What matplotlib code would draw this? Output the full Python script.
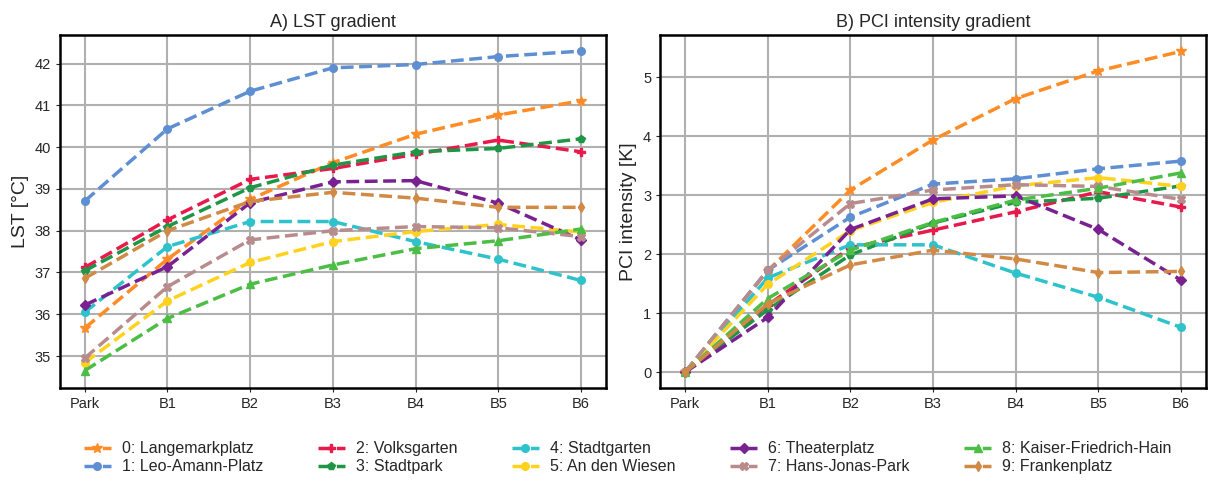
import numpy as np
import matplotlib
matplotlib.use("Agg")
import matplotlib.pyplot as plt

plt.rcParams['font.family'] = ['Liberation Sans', 'DejaVu Sans']
plt.rcParams['text.color'] = '#262626'
plt.rcParams['axes.labelcolor'] = '#262626'
plt.rcParams['xtick.color'] = '#262626'
plt.rcParams['ytick.color'] = '#262626'

# distance classes
steps = ["Park", "B1", "B2", "B3", "B4", "B5", "B6"]

parks = ["0: Langemarkplatz", "1: Leo-Amann-Platz", "2: Volksgarten", "3: Stadtpark",
         "4: Stadtgarten", "5: An den Wiesen", "6: Theaterplatz", "7: Hans-Jonas-Park",
         "8: Kaiser-Friedrich-Hain", "9: Frankenplatz"]

colors = ["#ff8c26", "#5f8fd3", "#e8194b", "#1f9646", "#2ec2cb",
          "#ffd21f", "#7a2191", "#b88c8c", "#4cbd45", "#d18a45"]
markers = ["*", "o", "P", "p", "o", "o", "D", "X", "^", "d"]

# LST per park [°C]
lst_0 = [35.67, 37.32, 38.75, 39.63, 40.31, 40.77, 41.11]
lst_1 = [38.71, 40.44, 41.34, 41.90, 41.98, 42.17, 42.30]
lst_2 = [37.12, 38.26, 39.23, 39.49, 39.83, 40.17, 39.89]
lst_3 = [37.04, 38.10, 39.03, 39.57, 39.89, 39.97, 40.20]
lst_4 = [36.05, 37.62, 38.22, 38.22, 37.74, 37.32, 36.81]
lst_5 = [34.84, 36.32, 37.24, 37.74, 37.98, 38.15, 37.97]
lst_6 = [36.22, 37.14, 38.67, 39.17, 39.20, 38.66, 37.78]
lst_7 = [34.95, 36.66, 37.78, 38.00, 38.10, 38.07, 37.86]
lst_8 = [34.65, 35.90, 36.72, 37.18, 37.57, 37.76, 38.04]
lst_9 = [36.86, 38.00, 38.70, 38.92, 38.78, 38.56, 38.56]

# PCI intensity per park [K]
pci_0 = [0, 1.72, 3.09, 3.94, 4.64, 5.11, 5.44]
pci_1 = [0, 1.73, 2.63, 3.19, 3.28, 3.45, 3.58]
pci_2 = [0, 1.14, 2.11, 2.41, 2.72, 3.06, 2.80]
pci_3 = [0, 1.06, 1.99, 2.53, 2.88, 2.95, 3.16]
pci_4 = [0, 1.60, 2.16, 2.16, 1.68, 1.27, 0.76]
pci_5 = [0, 1.49, 2.40, 2.88, 3.16, 3.30, 3.15]
pci_6 = [0, 0.93, 2.42, 2.94, 2.99, 2.42, 1.56]
pci_7 = [0, 1.73, 2.86, 3.09, 3.18, 3.15, 2.93]
pci_8 = [0, 1.25, 2.07, 2.54, 2.92, 3.12, 3.38]
pci_9 = [0, 1.16, 1.82, 2.07, 1.92, 1.69, 1.71]

lst = [lst_0, lst_1, lst_2, lst_3, lst_4, lst_5, lst_6, lst_7, lst_8, lst_9]
pci = [pci_0, pci_1, pci_2, pci_3, pci_4, pci_5, pci_6, pci_7, pci_8, pci_9]

fig, (ax1, ax2) = plt.subplots(1, 2, figsize=(12.12, 4.84), dpi=100)
fig.subplots_adjust(left=0.0495, right=0.995, top=0.928, bottom=0.198, wspace=0.1)

x = np.arange(len(steps))
for i in range(len(parks)):
    ms = 7.5 if markers[i] == "*" else 5.5
    ax1.plot(x, lst[i], ls="--", lw=2.5, marker=markers[i], ms=ms,
             color=colors[i], label=parks[i])
    ax2.plot(x, pci[i], ls="--", lw=2.5, marker=markers[i], ms=ms,
             color=colors[i])

for ax in (ax1, ax2):
    ax.set_xticks(x)
    ax.set_xticklabels(steps)
    ax.set_xlim(-0.3, 6.3)
    ax.grid(True, color="#b0b0b0", lw=1.5)
    ax.set_axisbelow(True)
    ax.tick_params(labelsize=10.5, length=3)
    for s in ax.spines.values():
        s.set_linewidth(1.8)

ax1.set_ylim(34.23, 42.69)
ax1.set_yticks([35, 36, 37, 38, 39, 40, 41, 42])
ax2.set_ylim(-0.27, 5.72)
ax2.set_yticks([0, 1, 2, 3, 4, 5])

ax1.set_title("A) LST gradient", fontsize=13)
ax2.set_title("B) PCI intensity gradient", fontsize=13)
ax1.set_ylabel("LST [°C]", fontsize=14)
ax2.set_ylabel("PCI intensity [K]", fontsize=14)

fig.legend(loc="lower center", ncol=5, frameon=False, fontsize=11.5,
           bbox_to_anchor=(0.518, -0.01), columnspacing=3.4, handlelength=1.7,
           handletextpad=0.7, labelspacing=0.2)

plt.savefig("out.png", dpi=100)
